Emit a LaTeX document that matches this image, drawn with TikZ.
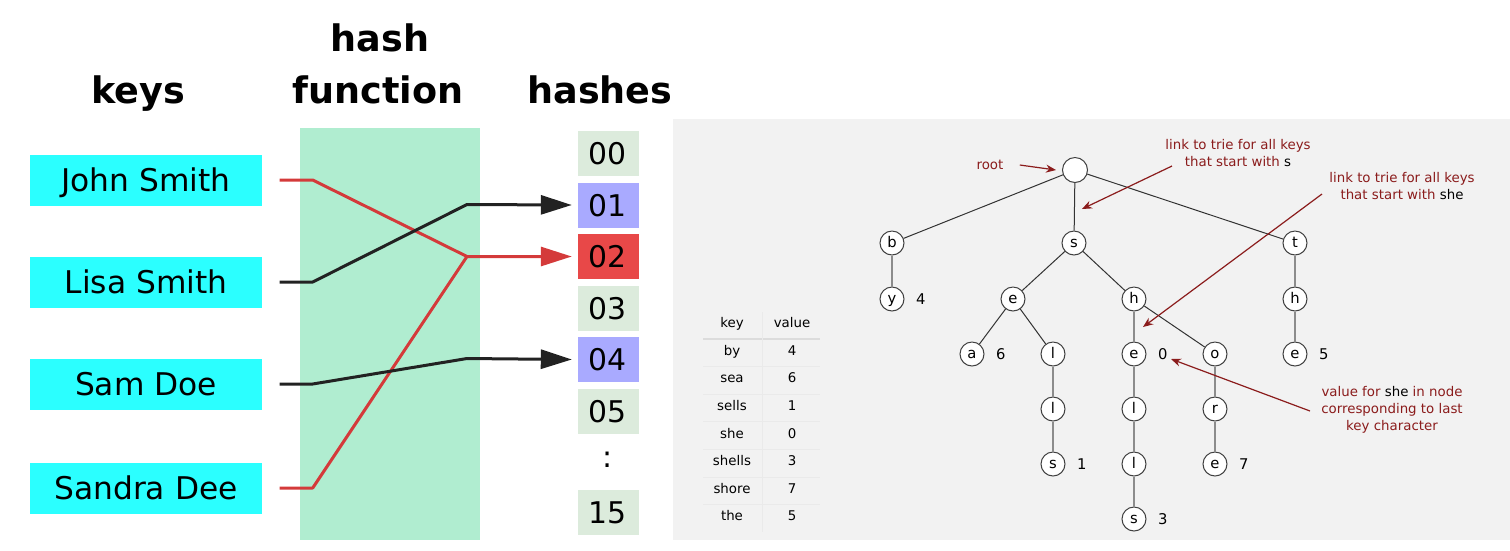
\documentclass[tikz,border=0pt]{standalone}
\usepackage{fontspec}
\setmainfont{DejaVu Sans}
\usetikzlibrary{arrows.meta,positioning}
\definecolor{hkey}{HTML}{2BFFFF}
\definecolor{hfunc}{HTML}{B0EDD0}
\definecolor{hslot}{HTML}{DCEBDC}
\definecolor{hblue}{HTML}{A9AAFF}
\definecolor{hhit}{HTML}{E84848}
\definecolor{hred}{HTML}{D43A3A}
\definecolor{hdark}{HTML}{222222}
\definecolor{tbg}{HTML}{F2F2F2}
\definecolor{tann}{HTML}{8B1C1C}
\definecolor{trule}{HTML}{DCDCDC}
\tikzset{
  keybox/.style={fill=hkey, minimum width=23.2mm, minimum height=5.1mm, inner sep=0pt,
    text height=2.3mm, text depth=0mm, font=\fontsize{8.9}{10}\selectfont},
  slot/.style={fill=hslot, minimum width=6.1mm, minimum height=4.5mm, inner sep=0pt,
    text height=2.2mm, text depth=0mm, font=\fontsize{8.5}{10}\selectfont},
  title/.style={anchor=base, font=\fontsize{10.4}{12}\selectfont\bfseries},
  hline/.style={line width=0.3mm, line join=round},
  harrow/.style={hline, -{Triangle[length=3.1mm, width=1.9mm]}},
  tnode/.style={circle, draw=black!75, fill=white, line width=0.1mm, minimum size=2.4mm,
    inner sep=0pt, text height=1.1mm, text depth=0.25mm, font=\fontsize{4.2}{5}\selectfont},
  tval/.style={inner sep=0.2mm, font=\fontsize{4.2}{5}\selectfont},
  tedge/.style={black!80, line width=0.1mm},
  tchain/.style={black!45, line width=0.12mm},
  ann/.style={tann, line width=0.12mm, -{Stealth[length=1mm, width=0.8mm]}},
  annt/.style={tann, align=center, font=\fontsize{3.8}{4.8}\selectfont},
  cell/.style={inner sep=0pt, text height=1mm, text depth=0.25mm, font=\fontsize{3.8}{4.5}\selectfont},
}
\begin{document}
\begin{tikzpicture}[x=0.1mm, y=-0.1mm]
\useasboundingbox (0,0) rectangle (1510,550);
% ---------------- hash table ----------------
\node[title] (tkeys) at (138,103) {keys};
\node[title] (thash) at (380,51) {hash};
\node[title] (tfunc) at (378,103) {function};
\node[title] (tslots) at (600,103) {hashes};
\fill[hfunc] (300,128) rectangle (480,540);
\node[keybox] (john) at (146,180) {John Smith};
\node[keybox] (lisa) at (146,282) {Lisa Smith};
\node[keybox] (sam) at (146,384) {Sam Doe};
\node[keybox] (sandra) at (146,488) {Sandra Dee};
\foreach \n/\c [count=\i from 0] in {00/hslot,01/hblue,02/hhit,03/hslot,04/hblue,05/hslot}
  {\node[slot, fill=\c] (h\n) at (608,{153.5+51.5*\i}) {\n};}
\node[font=\fontsize{8.5}{10}\selectfont] (hdots) at (608,460) {:};
\node[slot] (h15) at (608,512.5) {15};
\coordinate (m01) at (467,204.5);
\coordinate (m02) at (467,256.5);
\coordinate (m04) at (467,358.5);
\draw[hline, hred] ([xshift=1.7mm]sandra.east) -- ++(33,0) -- (m02);
\draw[harrow, hred] ([xshift=1.7mm]john.east) -- ++(33,0) -- (m02) -- ([xshift=-0.5mm]h02.west);
\draw[harrow, hdark] ([xshift=1.7mm]lisa.east) -- ++(33,0) -- (m01) -- ([xshift=-0.5mm]h01.west);
\draw[harrow, hdark] ([xshift=1.7mm]sam.east) -- ++(33,0) -- (m04) -- ([xshift=-0.5mm]h04.west);
% ---------------- trie ----------------
\fill[tbg] (673,119) rectangle (1510,540);
% symbol table
\node[cell] (hkey) at (732,324) {key};
\node[cell] (hval) at (792,324) {value};
\draw[trule, line width=0.15mm] (703,339) -- (820,339);
\draw[trule!60, line width=0.1mm] (762,312) -- (762,532);
\foreach \i in {1,...,6}{\draw[trule!60, line width=0.1mm] (703,{339+27.6*\i}) -- (820,{339+27.6*\i});}
\foreach \k/\v [count=\i] in {by/4,sea/6,sells/1,she/0,shells/3,shore/7,the/5}{
  \node[cell] (key\i) at (732,{324+27.6*\i}) {\k};
  \node[cell] (val\i) at (792,{324+27.6*\i}) {\v};
}
% nodes
\node[tnode, minimum size=2.5mm] (root) at (1075,170) {};
\node[tnode] (nb) at (892,243) {b};
\node[tnode] (ns) at (1074,243) {s};
\node[tnode] (nt) at (1295,243) {t};
\node[tnode] (ny) at (892,299) {y};
\node[tnode] (nse) at (1013,299) {e};
\node[tnode] (nsh) at (1134,299) {h};
\node[tnode] (nth) at (1295,299) {h};
\node[tnode] (nsea) at (972,354) {a};
\node[tnode] (nsel) at (1053,354) {l};
\node[tnode] (nshe) at (1134,354) {e};
\node[tnode] (nsho) at (1215,354) {o};
\node[tnode] (nthe) at (1295,354) {e};
\node[tnode] (nsell) at (1053,409) {l};
\node[tnode] (nshel) at (1134,409) {l};
\node[tnode] (nshor) at (1215,409) {r};
\node[tnode] (nsells) at (1053,464) {s};
\node[tnode] (nshell) at (1134,464) {l};
\node[tnode] (nshore) at (1215,464) {e};
\node[tnode] (nshells) at (1134,519) {s};
% values
\node[tval, right=0.9mm of ny] (vy) {4};
\node[tval, right=0.9mm of nsea] (vsea) {6};
\node[tval, right=0.9mm of nsells] (vsells) {1};
\node[tval, right=0.9mm of nshe] (vshe) {0};
\node[tval, right=0.9mm of nshells] (vshells) {3};
\node[tval, right=0.9mm of nshore] (vshore) {7};
\node[tval, right=0.9mm of nthe] (vthe) {5};
% links
\draw[tedge] (root) -- (nb);
\draw[tedge] (root) -- (ns);
\draw[tedge] (root) -- (nt);
\draw[tedge] (ns) -- (nse);
\draw[tedge] (ns) -- (nsh);
\draw[tedge] (nse) -- (nsea);
\draw[tedge] (nse) -- (nsel);
\draw[tedge] (nsh) -- (nsho);
\draw[tchain] (nb) -- (ny);
\draw[tchain] (nsel) -- (nsell) -- (nsells);
\draw[tchain] (nsh) -- (nshe) -- (nshel) -- (nshell) -- (nshells);
\draw[tchain] (nsho) -- (nshor) -- (nshore);
\draw[tchain] (nt) -- (nth) -- (nthe);
% annotations
\node[annt] (lroot) at (990,165) {root};
\draw[ann] ([xshift=0.4mm]lroot.east) -- ([xshift=-0.6mm]root.west);
\node[annt] (ls) at (1238,153) {link to trie for all keys\\that start with {\color{black}s}};
\coordinate (a1s) at (1172,166);
\coordinate (a1e) at (1082,209);
\draw[ann] (a1s) -- (a1e);
\node[annt] (lshe) at (1402,186) {link to trie for all keys\\that start with {\color{black}she}};
\coordinate (a2s) at (1322,194);
\coordinate (a2e) at (1143,327);
\draw[ann] (a2s) -- (a2e);
\node[annt] (lval) at (1392,410) {value for {\color{black}she} in node\\corresponding to last\\key character};
\coordinate (a3s) at (1310,411);
\coordinate (a3e) at (1171,359);
\draw[ann] (a3s) -- (a3e);
\end{tikzpicture}
\end{document}
